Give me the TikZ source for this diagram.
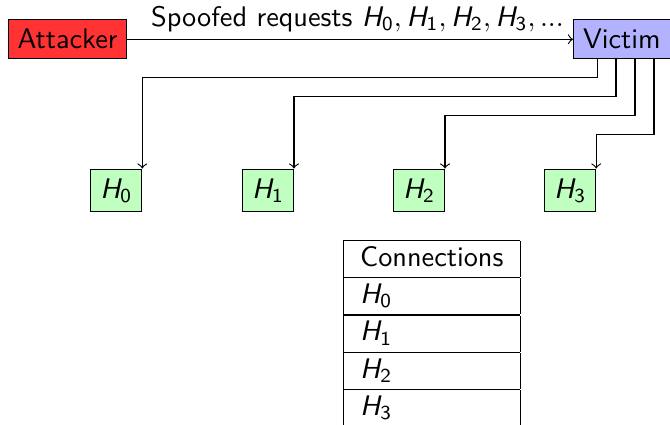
\documentclass[tikz,border=0pt]{standalone}
\usepackage{amsmath}
\usetikzlibrary{calc}
\DeclareSymbolFont{sfit}{OT1}{cmss}{m}{sl}
\DeclareSymbolFont{sfup}{OT1}{cmss}{m}{n}
\DeclareMathSymbol{H}{\mathalpha}{sfit}{`H}
\DeclareMathSymbol{0}{\mathalpha}{sfup}{`0}
\DeclareMathSymbol{1}{\mathalpha}{sfup}{`1}
\DeclareMathSymbol{2}{\mathalpha}{sfup}{`2}
\DeclareMathSymbol{3}{\mathalpha}{sfup}{`3}
\begin{document}
\begin{tikzpicture}[x=0.3534pt,y=-0.3534pt, font=\sffamily,
  box/.style={draw=black, inner sep=0.3333em},
  conn/.style={->}]
\useasboundingbox (0,0) rectangle (670,424);
\node[box, fill=red!80] (attacker) at (67.5,39.3) {Attacker};
\node[anchor=base west, inner sep=0] (label) at (150.5,26.7)
  {Spoofed requests $H_0, H_1, H_2, H_3, ...$};
\node[box, fill=blue!30, anchor=west] (victim) at (573,39.3) {Victim};
\draw[conn] (attacker) -- (victim);
\node[box, fill=green!25] (h0) at (116.3,190.5) {$H_0$};
\node[box, fill=green!25] (h1) at (268,190.5) {$H_1$};
\node[box, fill=green!25] (h2) at (419,190.5) {$H_2$};
\node[box, fill=green!25] (h3) at (570.2,190.5) {$H_3$};
\draw[conn] ($(victim.south west)+(24.7,0)$) -- ++(0,18) -| (h0.north east);
\draw[conn] ($(victim.south west)+(43,0)$) -- ++(0,37) -| (h1.north east);
\draw[conn] ($(victim.south west)+(62,0)$) -- ++(0,56) -| (h2.north east);
\draw[conn] ($(victim.south west)+(81,0)$) -- ++(0,75) -| (h3.north east);
\node[anchor=north west, inner sep=0] (table) at (342.7,239.3)
  {\renewcommand{\arraystretch}{1.065}%
   \begin{tabular}{|l|}\hline
   \multicolumn{1}{|c|}{Connections}\\\hline
   $H_0$\\\hline
   $H_1$\\\hline
   $H_2$\\\hline
   $H_3$\\\hline
   \end{tabular}};
\end{tikzpicture}
\end{document}
